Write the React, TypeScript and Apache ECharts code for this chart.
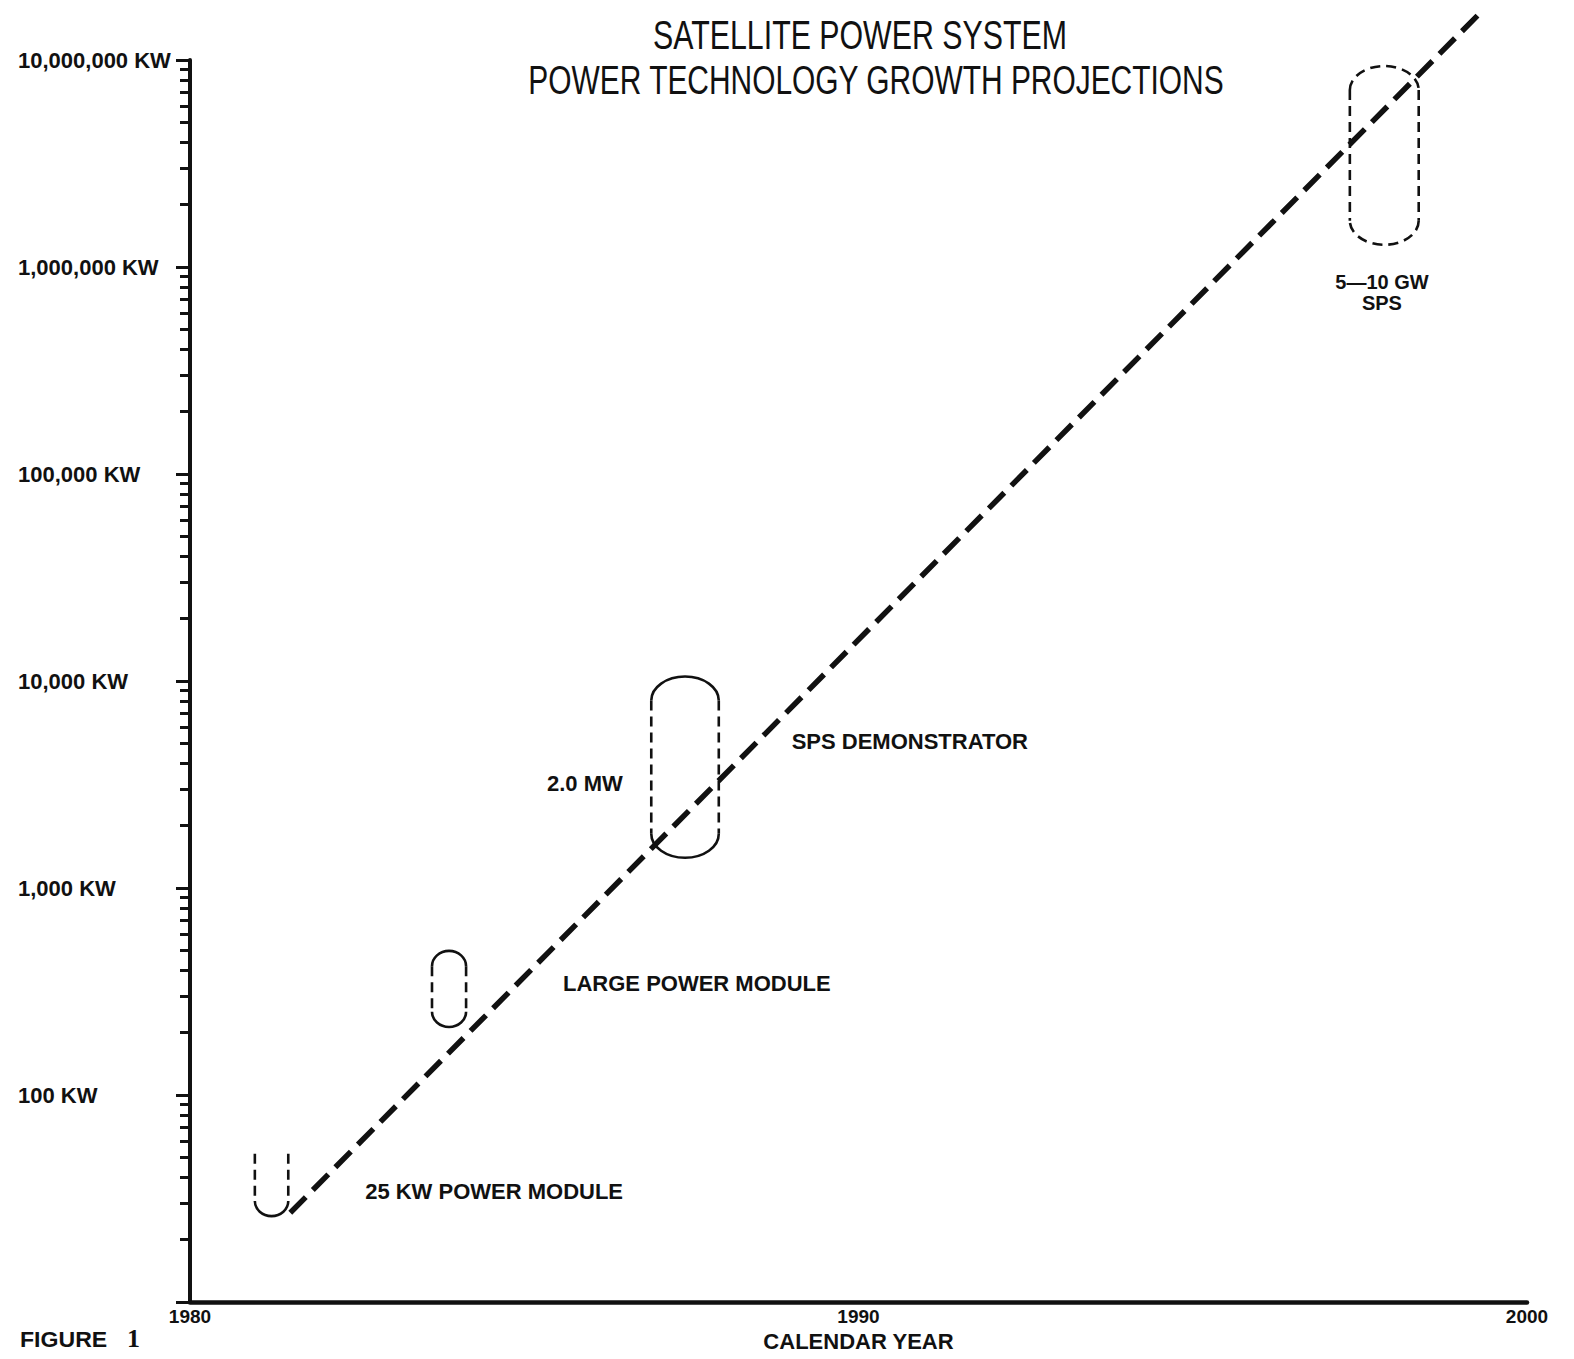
import React, { useEffect, useRef } from 'react';
import * as echarts from 'echarts';

// ---- data ----
const yearMin = 1980;
const yearMax = 2000;
const yearStep = 10;
const kwMin = 10;
const kwMax = 10000000;
const minorMultipliers = [2, 3, 4, 5, 6, 7, 8, 9];
const minorDecades = [10, 100, 1000, 10000, 100000, 1000000];

const trendYears = [1981.5, 1999.3];
const trendKW = [27, 16900000];

const capsuleNames = ['25 KW POWER MODULE', 'LARGE POWER MODULE', '2.0 MW SPS DEMONSTRATOR', '5-10 GW SPS'];
const capsuleStartYear = [1980.97, 1983.62, 1986.9, 1997.35];
const capsuleEndYear = [1981.47, 1984.13, 1987.91, 1998.38];
const capsuleLowKW = [26, 213, 1400, 1280000];
const capsuleHighKW = [52, 497, 10500, 9350000];

const noteTexts = ['25 KW POWER MODULE', 'LARGE POWER MODULE', '2.0 MW', 'SPS DEMONSTRATOR', '5\u201410 GW\nSPS'];
const noteYears = [1982.62, 1985.58, 1985.34, 1989.0, 1997.83];
const noteKW = [34, 347, 3213, 5130, 750000];

const titleLines = ['SATELLITE POWER SYSTEM', 'POWER TECHNOLOGY GROWTH PROJECTIONS'];

// ---- look ----
const INK = '#111111';
const FONT = '"Liberation Sans", Arial, Helvetica, sans-serif';
const capsuleLook = [
  { top: 'open', bottom: 'solid' },
  { top: 'solid', bottom: 'solid' },
  { top: 'solid', bottom: 'solid' },
  { top: 'dashed', bottom: 'dashed' },
];

export default function App() {
  const ref = useRef<HTMLDivElement>(null);

  useEffect(() => {
    if (!ref.current) return;
    const chart = echarts.init(ref.current, null, { renderer: 'svg' });

    const minorValues: number[] = [];
    minorDecades.forEach((d) => minorMultipliers.forEach((m) => minorValues.push(d * m)));

    const capsuleData = capsuleNames.map((n, i) => ({
      name: n,
      value: [capsuleStartYear[i], capsuleEndYear[i], capsuleLowKW[i], capsuleHighKW[i]],
    }));

    const noteData = noteTexts.map((t, i) => ({
      name: t,
      value: [noteYears[i], noteKW[i]],
      label: i === 4 ? { align: 'center', fontSize: 20, lineHeight: 21 } : { align: 'left' },
    }));

    const option: any = {
      animation: false,
      backgroundColor: '#ffffff',
      grid: { left: 190, right: 47, top: 60, bottom: 57, containLabel: false, outerBoundsMode: 'none' },
      xAxis: {
        type: 'value',
        min: yearMin,
        max: yearMax,
        interval: yearStep,
        name: 'CALENDAR YEAR',
        nameLocation: 'middle',
        nameGap: 27,
        nameTextStyle: { color: INK, fontSize: 22, fontWeight: 'bold', fontFamily: FONT },
        axisLine: { show: true, lineStyle: { color: INK, width: 4.5 } },
        axisTick: { show: false },
        splitLine: { show: false },
        axisLabel: {
          color: INK,
          fontSize: 19,
          fontWeight: 'bold',
          fontFamily: FONT,
          margin: 5,
          formatter: (v: number) => String(Math.round(v)),
        },
      },
      yAxis: [
        {
          type: 'log',
          logBase: 10,
          min: kwMin,
          max: kwMax,
          splitNumber: 6,
          axisLine: { show: true, lineStyle: { color: INK, width: 4 } },
          axisTick: { show: true, length: 14, lineStyle: { color: INK, width: 3 } },
          minorTick: { show: false },
          splitLine: { show: false },
          axisLabel: {
            color: INK,
            fontSize: 22,
            fontWeight: 'bold',
            fontFamily: FONT,
            align: 'left',
            margin: 172,
            formatter: (v: number) => {
              const r = Math.round(v);
              if (r <= kwMin) return '';
              return r.toLocaleString('en-US') + ' KW';
            },
          },
        },
        {
          type: 'log',
          logBase: 10,
          min: kwMin,
          max: kwMax,
          position: 'left',
          offset: 0,
          axisLine: { show: false },
          axisTick: { show: true, length: 10, lineStyle: { color: INK, width: 3 }, customValues: minorValues },
          axisLabel: { show: false },
          splitLine: { show: false },
        },
      ],
      graphic: [
        {
          type: 'text',
          x: 860,
          y: 35,
          scaleX: 0.74,
          style: {
            text: titleLines[0],
            align: 'center',
            verticalAlign: 'middle',
            textAlign: 'center',
            textVerticalAlign: 'middle',
            fill: INK,
            font: `41px ${FONT}`,
          },
        },
        {
          type: 'text',
          x: 876,
          y: 80,
          scaleX: 0.73,
          style: {
            text: titleLines[1],
            align: 'center',
            verticalAlign: 'middle',
            textAlign: 'center',
            textVerticalAlign: 'middle',
            fill: INK,
            font: `41px ${FONT}`,
          },
        },
        {
          type: 'text',
          x: 20,
          y: 1340,
          scaleX: 1.05,
          style: {
            text: 'FIGURE',
            align: 'left',
            verticalAlign: 'middle',
            textAlign: 'left',
            textVerticalAlign: 'middle',
            fill: INK,
            font: `bold 22px ${FONT}`,
          },
        },
        {
          type: 'text',
          x: 127,
          y: 1338,
          style: {
            text: '1',
            align: 'left',
            verticalAlign: 'middle',
            textAlign: 'left',
            textVerticalAlign: 'middle',
            fill: INK,
            font: `bold 26px "Liberation Serif", serif`,
          },
        },
      ],
      series: [
        {
          type: 'line',
          data: trendYears.map((y, i) => [y, trendKW[i]]),
          showSymbol: false,
          symbol: 'none',
          clip: false,
          lineStyle: { color: INK, width: 5.5, type: [22, 10], cap: 'butt' },
          silent: true,
          z: 3,
        },
        {
          type: 'custom',
          data: capsuleData,
          clip: false,
          silent: true,
          encode: { x: [0, 1], y: [2, 3] },
          renderItem: (params: any, api: any) => {
            const i = params.dataIndex;
            const tl = api.coord([api.value(0), api.value(3)]);
            const br = api.coord([api.value(1), api.value(2)]);
            const left = tl[0];
            const right = br[0];
            const top = tl[1];
            const bottom = br[1];
            const rx = (right - left) / 2;
            const ry = Math.min(rx * 0.9, 24);
            const look = capsuleLook[i];
            const solid = { stroke: INK, fill: 'none', lineWidth: 2.6 };
            const dashed = { stroke: INK, fill: 'none', lineWidth: 2.6, lineDash: [10, 6] };
            const sideTop = look.top === 'open' ? top : top + ry;
            const children: any[] = [
              { type: 'line', shape: { x1: left, y1: sideTop, x2: left, y2: bottom - ry }, style: dashed },
              { type: 'line', shape: { x1: right, y1: sideTop, x2: right, y2: bottom - ry }, style: dashed },
              {
                type: 'path',
                shape: { pathData: `M${right} ${bottom - ry} A${rx} ${ry} 0 0 1 ${left} ${bottom - ry}` },
                style: look.bottom === 'solid' ? solid : dashed,
              },
            ];
            if (look.top !== 'open') {
              children.push({
                type: 'path',
                shape: { pathData: `M${left} ${top + ry} A${rx} ${ry} 0 0 1 ${right} ${top + ry}` },
                style: look.top === 'solid' ? solid : dashed,
              });
            }
            return { type: 'group', children };
          },
          z: 2,
        },
        {
          type: 'scatter',
          data: noteData,
          symbolSize: 0,
          silent: true,
          itemStyle: { opacity: 1, color: INK },
          label: {
            show: true,
            position: 'inside',
            formatter: '{b}',
            color: INK,
            opacity: 1,
            fontSize: 22,
            fontWeight: 'bold',
            fontFamily: FONT,
            verticalAlign: 'middle',
          },
          z: 4,
        },
      ],
    };

    chart.setOption(option);
    return () => chart.dispose();
  }, []);

  return <div ref={ref} style={{ width: 1574, height: 1359, margin: -8 }} />;
}
